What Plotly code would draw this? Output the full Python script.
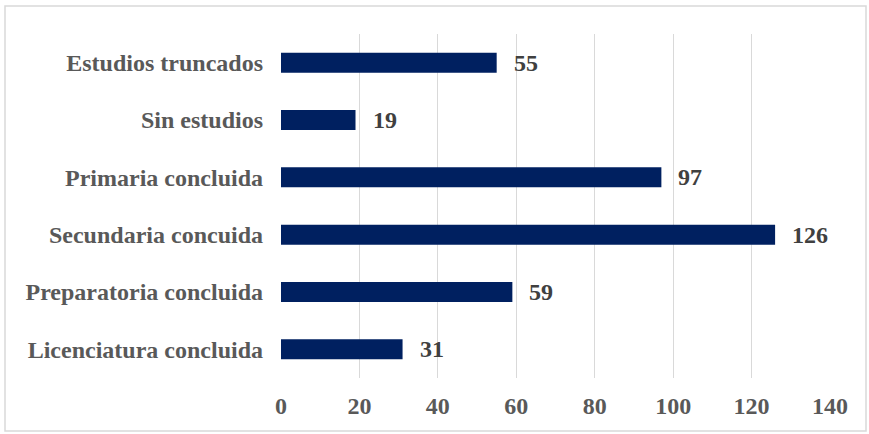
import plotly.graph_objects as go

# Education level counts (top to bottom as displayed)
categories = [
    "Estudios truncados",
    "Sin estudios",
    "Primaria concluida",
    "Secundaria concuida",
    "Preparatoria concluida",
    "Licenciatura concluida",
]
values = [55, 19, 97, 126, 59, 31]
x_ticks = [0, 20, 40, 60, 80, 100, 120, 140]

BAR_COLOR = "#002060"
GRID_COLOR = "#d9d9d9"
TICK_COLOR = "#595959"
LABEL_COLOR = "#404040"
FONT = "Liberation Serif, Times New Roman, serif"

W, H = 869, 434
ml, mr, mt, mb = 281, 39, 34, 56
pw, ph = W - ml - mr, H - mt - mb

fig = go.Figure(
    go.Bar(
        x=values,
        y=categories,
        orientation="h",
        marker=dict(color=BAR_COLOR, line=dict(width=0)),
        hoverinfo="x+y",
    )
)

# value labels to the right of each bar
for cat, val in zip(categories, values):
    fig.add_annotation(
        x=val, y=cat, text=f"<b>{val}</b>", showarrow=False,
        xanchor="left", yanchor="middle", xshift=15,
        font=dict(family=FONT, size=24, color=LABEL_COLOR),
    )

# outer chart frame
def px_to_paper_x(px):
    return (px - ml) / pw

def px_to_paper_y(py):
    return (H - mb - py) / ph

fig.add_shape(
    type="rect", xref="paper", yref="paper",
    x0=px_to_paper_x(5), x1=px_to_paper_x(866),
    y0=px_to_paper_y(431), y1=px_to_paper_y(6),
    line=dict(color=GRID_COLOR, width=1.5), fillcolor="rgba(0,0,0,0)",
    layer="below",
)

fig.update_layout(
    width=W, height=H,
    margin=dict(l=ml, r=mr, t=mt, b=mb),
    paper_bgcolor="white", plot_bgcolor="white",
    bargap=0.65,
    showlegend=False,
    font=dict(family=FONT, size=24, color=TICK_COLOR),
    xaxis=dict(
        range=[0, 140], tickvals=x_ticks,
        ticktext=[f"<b>{t}</b>" for t in x_ticks],
        showgrid=True, gridcolor=GRID_COLOR, gridwidth=1,
        zeroline=False, showline=False, ticks="",
        ticklabelstandoff=11,
        tickfont=dict(family=FONT, size=24, color=TICK_COLOR),
        fixedrange=True,
    ),
    yaxis=dict(
        categoryorder="array", categoryarray=categories,
        autorange="reversed",
        tickvals=categories,
        ticktext=[f"<b>{c}</b>" for c in categories],
        showgrid=False, zeroline=False, showline=False, ticks="",
        ticklabelstandoff=17,
        tickfont=dict(family=FONT, size=24, color=TICK_COLOR),
        fixedrange=True,
    ),
)

fig.write_html("out.html")
